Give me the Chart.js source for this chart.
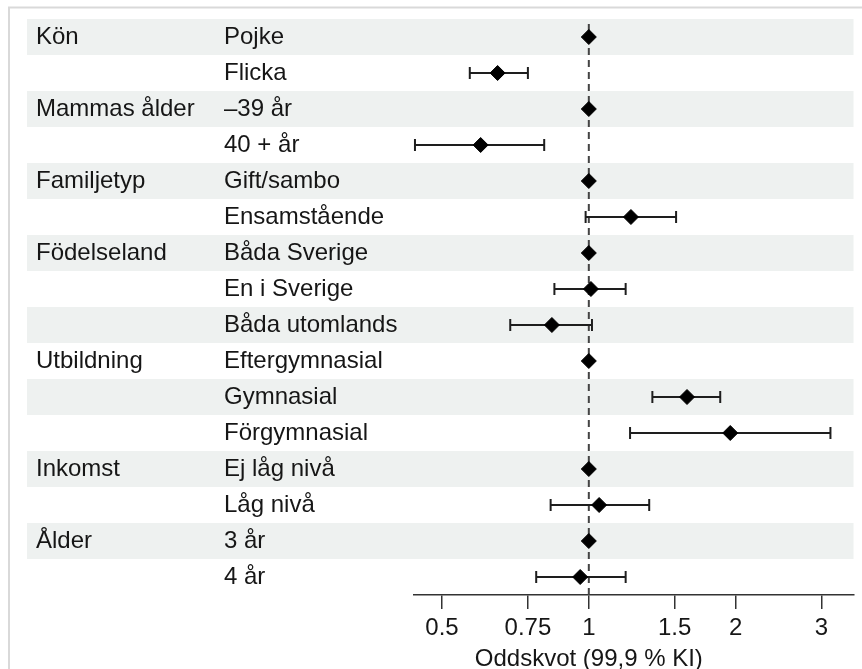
<!DOCTYPE html>
<html>
<head>
<meta charset="utf-8">
<script src="https://cdn.jsdelivr.net/npm/chart.js@4/dist/chart.umd.min.js"></script>
<style>
  html, body { margin: 0; padding: 0; background: #fff; }
  #wrap { width: 862px; height: 669px; position: relative; }
</style>
</head>
<body>
<div id="wrap"><canvas id="forest"></canvas></div>
<script>
// rader (undergrupper) och gruppnamn
const rowLabels = ['Pojke', 'Flicka', '–39 år', '40 + år', 'Gift/sambo', 'Ensamstående',
    'Båda Sverige', 'En i Sverige', 'Båda utomlands', 'Eftergymnasial', 'Gymnasial',
    'Förgymnasial', 'Ej låg nivå', 'Låg nivå', '3 år', '4 år'];
const groupLabels = ['Kön', '', 'Mammas ålder', '', 'Familjetyp', '', 'Födelseland', '', '',
    'Utbildning', '', '', 'Inkomst', '', 'Ålder', ''];

// oddskvot med 99,9 % konfidensintervall (referens = 1, inget intervall)
const oddsRatio = [1, 0.65, 1, 0.60, 1, 1.22, 1, 1.01, 0.84, 1, 1.59, 1.95, 1, 1.05, 1, 0.96];
const ciLow  = [null, 0.57, null, 0.44, null, 0.985, null, 0.85, 0.69, null, 1.35, 1.215, null, 0.835, null, 0.78];
const ciHigh = [null, 0.75, null, 0.81, null, 1.51, null, 1.19, 1.015, null, 1.86, 3.13, null, 1.33, null, 1.19];

const xTicks = [0.5, 0.75, 1, 1.5, 2, 3];
const xTitle = 'Oddskvot (99,9 % KI)';

const textColor = '#161616';
const fontFamily = "'Liberation Sans', Arial, Helvetica, sans-serif";

Chart.defaults.font.family = fontFamily;
Chart.defaults.font.size = 24;
Chart.defaults.color = textColor;

// bakgrund: ram, randiga rader, gruppnamn och streckad linje vid 1
const forestDecor = {
    id: 'forestDecor',
    beforeDraw(chart) {
        const ctx = chart.ctx;
        const y = chart.scales.y;
        const area = chart.chartArea;
        const half = (area.bottom - area.top) / rowLabels.length / 2;
        ctx.save();
        ctx.fillStyle = '#eef1f0';
        for (let i = 0; i < rowLabels.length; i += 2) {
            const yc = y.getPixelForValue(i);
            ctx.fillRect(27, yc - half, area.right - 27, half * 2);
        }
        ctx.strokeStyle = '#d9d9d9';
        ctx.lineWidth = 2;
        ctx.beginPath();
        ctx.moveTo(9, chart.height);
        ctx.lineTo(9, 7.5);
        ctx.lineTo(chart.width, 7.5);
        ctx.stroke();

        ctx.fillStyle = textColor;
        ctx.font = '24px ' + fontFamily;
        ctx.textAlign = 'left';
        ctx.textBaseline = 'middle';
        groupLabels.forEach((g, i) => {
            if (g) ctx.fillText(g, 36, y.getPixelForValue(i));
        });
        ctx.restore();
    },
    beforeDatasetsDraw(chart) {
        const ctx = chart.ctx;
        const area = chart.chartArea;
        const x1 = chart.scales.x.getPixelForValue(1);
        ctx.save();
        ctx.strokeStyle = '#444';
        ctx.lineWidth = 2;
        ctx.setLineDash([7, 5]);
        ctx.beginPath();
        ctx.moveTo(x1, area.top + 5);
        ctx.lineTo(x1, area.bottom);
        ctx.stroke();
        ctx.restore();
    },
    afterDraw(chart) {
        const ctx = chart.ctx;
        ctx.save();
        ctx.fillStyle = textColor;
        ctx.font = '24px ' + fontFamily;
        ctx.textAlign = 'center';
        ctx.textBaseline = 'middle';
        ctx.fillText(xTitle, chart.scales.x.getPixelForValue(1), 659);
        ctx.restore();
    }
};

const datasets = [{
    label: 'Oddskvot',
    data: rowLabels.map((r, i) => ({x: oddsRatio[i], y: r})),
    pointStyle: 'rectRot',
    pointRadius: 7.5,
    backgroundColor: '#000',
    borderColor: '#000',
    borderWidth: 1,
    clip: false
}];

rowLabels.forEach((r, i) => {
    if (ciLow[i] === null) return;
    datasets.push({
        label: 'KI ' + r,
        data: [{x: ciLow[i], y: r}, {x: ciHigh[i], y: r}],
        showLine: true,
        borderColor: '#1e1e1e',
        borderWidth: 2,
        pointStyle: 'line',
        pointRotation: 90,
        pointRadius: 6,
        pointBorderWidth: 2,
        pointBorderColor: '#1e1e1e',
        clip: false
    });
});

new Chart(document.getElementById('forest'), {
    type: 'scatter',
    data: { datasets: datasets },
    options: {
        responsive: true,
        maintainAspectRatio: false,
        animation: false,
        layout: { padding: { left: 224, top: 19, right: 8, bottom: 0 } },
        plugins: {
            legend: { display: false },
            tooltip: { enabled: false }
        },
        scales: {
            x: {
                type: 'logarithmic',
                min: 0.438,
                max: 3.49,
                afterBuildTicks(scale) {
                    scale.ticks = xTicks.map(v => ({value: v}));
                },
                afterFit(scale) { scale.height = 74; },
                ticks: {
                    autoSkip: false,
                    maxRotation: 0,
                    padding: 5,
                    color: textColor,
                    callback: v => String(v)
                },
                grid: {
                    display: true,
                    drawOnChartArea: false,
                    drawTicks: true,
                    tickLength: 14,
                    color: '#333',
                    lineWidth: 1.5
                },
                border: { display: true, color: '#333', width: 1.5 }
            },
            y: {
                type: 'category',
                labels: rowLabels,
                offset: true,
                afterFit(scale) { scale.width = 190; },
                ticks: {
                    autoSkip: false,
                    crossAlign: 'far',
                    padding: 0,
                    color: textColor
                },
                grid: { display: false },
                border: { display: false }
            }
        }
    },
    plugins: [forestDecor]
});
</script>
</body>
</html>
